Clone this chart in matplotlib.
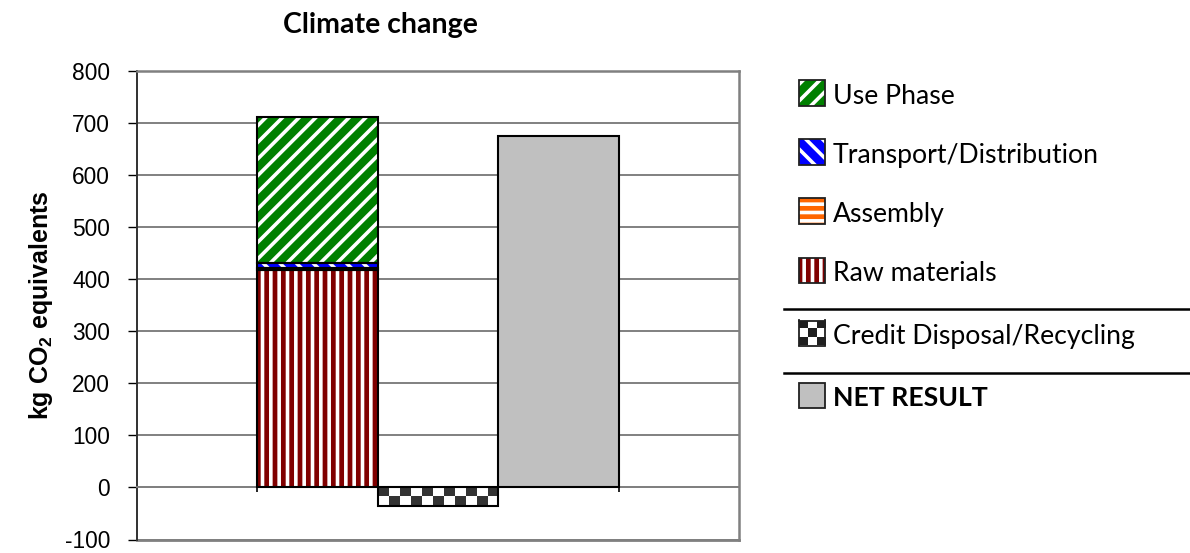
import matplotlib
matplotlib.use('Agg')
import matplotlib.pyplot as plt
from matplotlib import font_manager as fm
from matplotlib.patches import Rectangle
from matplotlib.lines import Line2D
from matplotlib.colors import ListedColormap
import numpy as np

# ---------------- data ----------------
title = 'Climate change'
y_label = 'kg CO$_\\mathrm{2}$ equivalents'
stages = ['Raw materials', 'Assembly', 'Transport/Distribution', 'Use Phase']
stage_values = [418, 3, 10, 279]
credit_label = 'Credit Disposal/Recycling'
credit_value = -35
net_label = 'NET RESULT'
net_value = 675
y_ticks = [-100, 0, 100, 200, 300, 400, 500, 600, 700, 800]

# ---------------- style ----------------
stage_colors = ['#800000', '#FF6600', '#0000FF', '#008000']
stage_hatches = ['||', '--', '\\\\', '//']
net_color = '#C0C0C0'
checker_dark = '#333333'

W, H = 1190, 553
plt.rcParams['hatch.linewidth'] = 2.6
plt.rcParams['axes.unicode_minus'] = False
plt.rcParams['mathtext.fontset'] = 'custom'
plt.rcParams['mathtext.rm'] = 'Liberation Sans:bold'
plt.rcParams['mathtext.bf'] = 'Liberation Sans:bold'
plt.rcParams['mathtext.it'] = 'Liberation Sans:bold'

names = {f.name for f in fm.fontManager.ttflist}
def pick(cands):
    for c in cands:
        if c in names:
            return c
    return 'DejaVu Sans'
narrow = pick(['Lato', 'Roboto', 'Liberation Sans Narrow', 'DejaVu Sans'])
arial = pick(['Liberation Sans', 'DejaVu Sans'])

fig = plt.figure(figsize=(W / 100, H / 100), dpi=100)

def px(x, y):
    return x / W, 1 - y / H

# ---------------- axes ----------------
ax_l, ax_r, ax_t, ax_b = 137, 739, 70.5, 539.5
ax = fig.add_axes([ax_l / W, 1 - ax_b / H, (ax_r - ax_l) / W, (ax_b - ax_t) / H])

bottom = 0
for name, val, col, hat in zip(stages, stage_values, stage_colors, stage_hatches):
    ax.bar(1, val, width=1, bottom=bottom, color=col, edgecolor='white',
           linewidth=0, hatch=hat, zorder=3)
    ax.bar(1, val, width=1, bottom=bottom, fill=False, edgecolor='black',
           linewidth=1.5, zorder=4)
    bottom += val

cbar = ax.bar(2, credit_value, width=1, color='white', edgecolor='black',
              linewidth=0, zorder=3)[0]
ncols = 11
checker = np.array([[(i + r + 1) % 2 for i in range(ncols)] for r in range(2)])
x0, x1 = cbar.get_x(), cbar.get_x() + cbar.get_width()
y0, y1 = cbar.get_y(), cbar.get_y() + cbar.get_height()
im = ax.imshow(checker, extent=(x0, x1, min(y0, y1), max(y0, y1)),
               cmap=ListedColormap(['white', checker_dark]), aspect='auto',
               interpolation='nearest', zorder=3.5)
im.set_clip_path(cbar)
ax.bar(2, credit_value, width=1, fill=False, edgecolor='black', linewidth=1.5, zorder=4)

ax.bar(3, net_value, width=1, color=net_color, edgecolor='black', linewidth=1.5, zorder=3)

ax.set_xlim(-0.5, 4.5)
ax.set_ylim(-100, 800)
ax.set_yticks(y_ticks)
ax.set_yticklabels([str(v) for v in y_ticks], family=arial, fontsize=16.4)
ax.set_xticks([0.5, 3.5])
ax.set_xticklabels([])
ax.yaxis.grid(True, color='#808080', linewidth=1.4)
ax.set_axisbelow(True)
ax.tick_params(axis='y', direction='out', length=6.5, width=1.0, color='black', pad=13)
ax.tick_params(axis='x', direction='out', length=3.5, width=1.2, color='black')
ax.spines['left'].set_color('#303030')
ax.spines['left'].set_linewidth(1.4)
for s in ['top', 'right']:
    ax.spines[s].set_color('#808080')
    ax.spines[s].set_linewidth(1.8)
ax.spines['bottom'].set_position(('data', 0))
ax.spines['bottom'].set_color('#808080')
ax.spines['bottom'].set_linewidth(1.4)
ax.spines['bottom'].set_zorder(2.5)
ax.plot([0, 1], [0, 0], transform=ax.transAxes, color='#808080', lw=2.0,
        clip_on=False, zorder=2)

# ---------------- texts ----------------
fig.canvas.draw()
rend = fig.canvas.get_renderer()

def fit(t, target):
    w = t.get_window_extent(rend).width
    t.set_fontsize(t.get_fontsize() * target / w)

tt = fig.text(*px(283, 33), title, ha='left', va='baseline', fontweight='bold',
              family=narrow, fontsize=20)
fit(tt, 195)

fig.text(*px(41, 305), y_label, rotation=90, ha='center', va='center',
         fontweight='bold', family=arial, fontsize=18)

# ---------------- legend ----------------
legend_names = list(reversed(stages)) + [credit_label, net_label]
legend_y = [93, 152, 211, 270, 333, 395]
probe = fig.text(0, 0, 'Transport/Distribution', family=narrow, fontsize=20)
fit(probe, 266)
leg_fs = probe.get_fontsize()
probe.remove()

for i, (name, yc) in enumerate(zip(legend_names, legend_y)):
    xL, yB = px(799, yc + 12.5)
    rw, rh = 26 / W, 25 / H
    if i < 4:
        idx = stages.index(name)
        fig.add_artist(Rectangle((xL, yB), rw, rh, transform=fig.transFigure,
                                 facecolor=stage_colors[idx], edgecolor='white',
                                 linewidth=0, hatch=stage_hatches[idx]))
        fig.add_artist(Rectangle((xL, yB), rw, rh, transform=fig.transFigure,
                                 fill=False, edgecolor='#202020', linewidth=1.3))
    elif name == credit_label:
        cax = fig.add_axes([xL, yB, rw, rh])
        cax.imshow(np.array([[0, 1, 0], [1, 0, 1], [0, 1, 0]]),
                   cmap=ListedColormap(['#202020', 'white']), aspect='auto',
                   interpolation='nearest')
        cax.set_xticks([]); cax.set_yticks([])
        for s in cax.spines.values():
            s.set_color('#202020'); s.set_linewidth(1.3)
    else:
        fig.add_artist(Rectangle((xL, yB), rw, rh, transform=fig.transFigure,
                                 facecolor=net_color, edgecolor='#202020', linewidth=1.3))
    fig.text(*px(833, yc + 11), name, ha='left', va='baseline', family=narrow,
             fontsize=leg_fs, fontweight='bold' if name == net_label else 'normal')

for yl in [309, 373]:
    fig.add_artist(Line2D([784 / W, 1], [1 - yl / H] * 2, transform=fig.transFigure,
                          color='black', linewidth=1.8))

fig.savefig('out.png', dpi=100)
